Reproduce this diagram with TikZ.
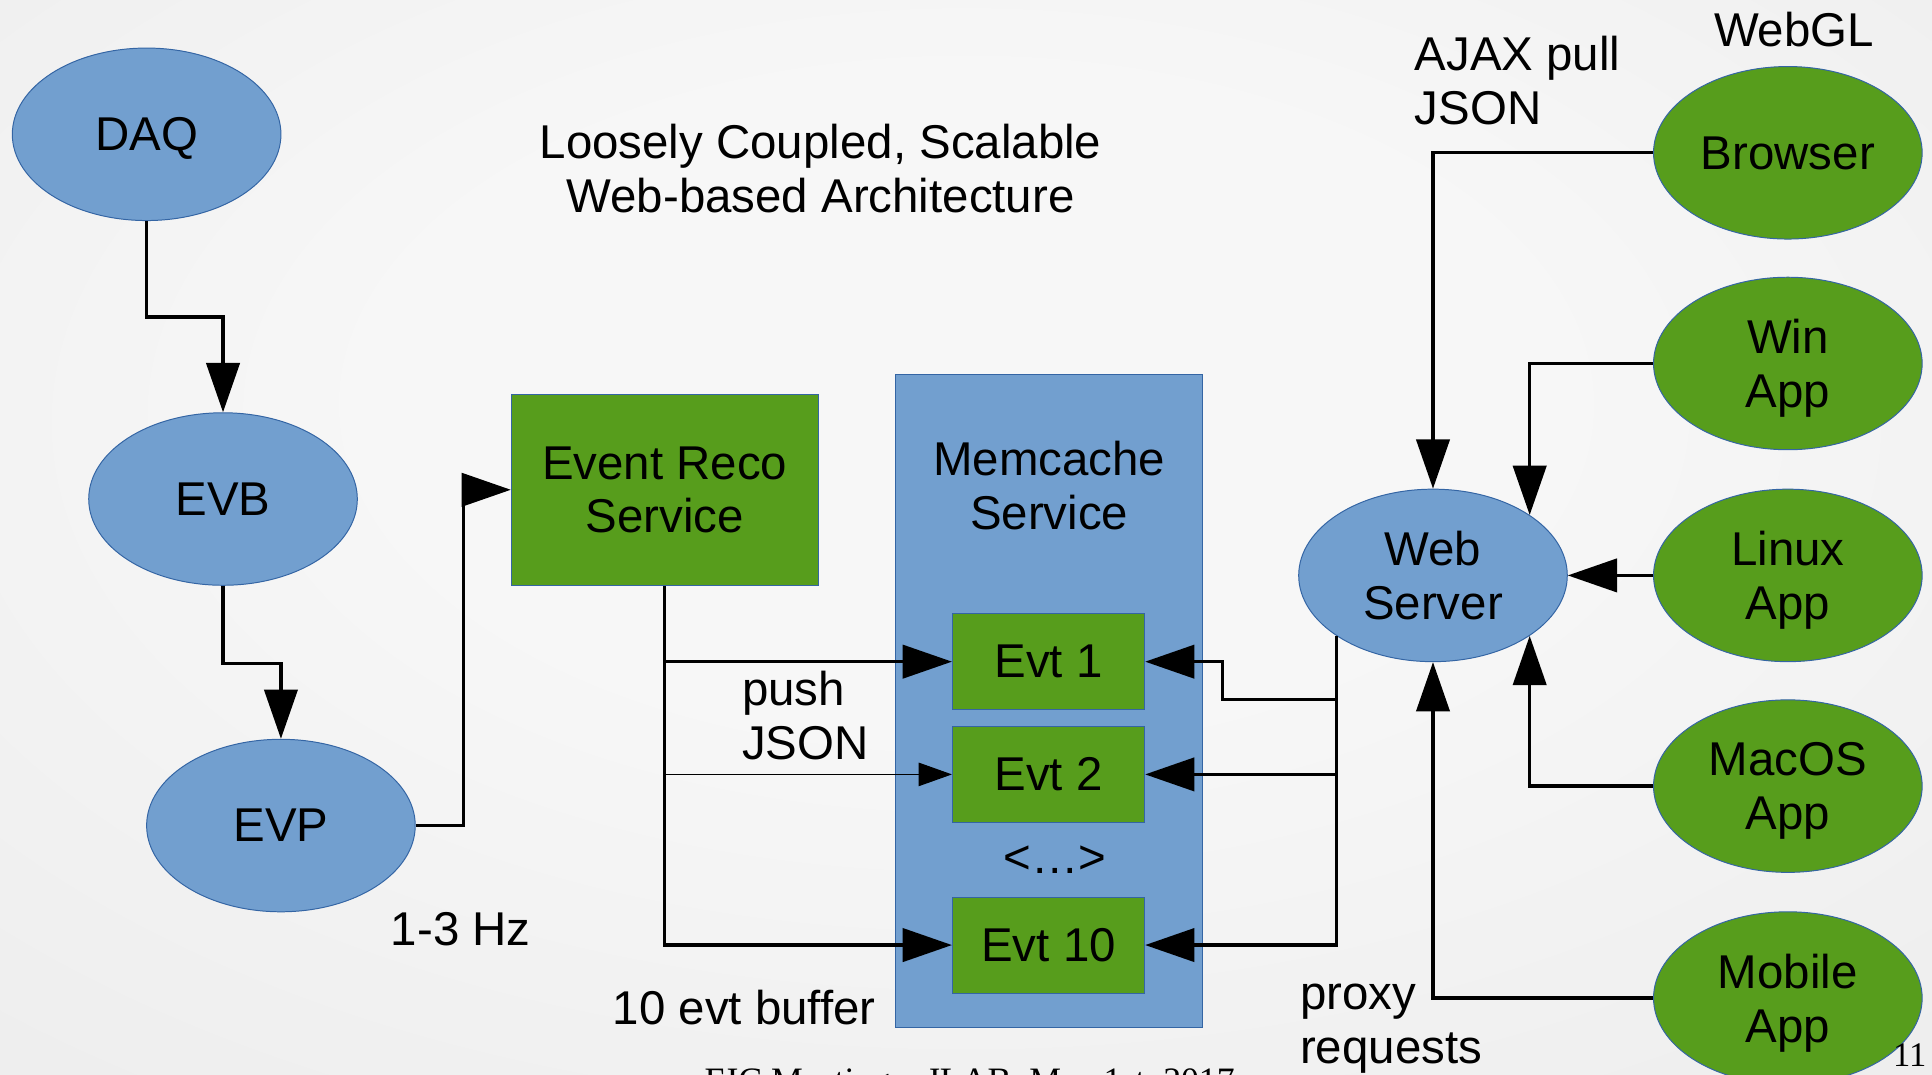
\documentclass[tikz,border=0pt]{standalone}
\usepackage{fontspec}
\setmainfont{Liberation Sans}
\newfontfamily\serifft{Liberation Serif}
\usetikzlibrary{arrows.meta,shapes.geometric,calc}
\definecolor{bluefill}{HTML}{729FCF}
\definecolor{blueline}{HTML}{3465A4}
\definecolor{greenfill}{HTML}{579D1C}
\definecolor{bgin}{HTML}{F7F7F7}
\definecolor{bgout}{HTML}{E0E0E0}
\pgfdeclareradialshading{bgshade}{\pgfpoint{0bp}{8bp}}{color(0bp)=(bgin); color(15bp)=(bgin); color(72bp)=(bgout)}
\begin{document}
\begin{tikzpicture}[x=1pt,y=-1pt,
  txt/.style={font=\fontsize{38.5}{43.5}\selectfont, inner sep=0pt, align=center},
  blueell/.style={ellipse, draw=blueline, line width=0.8pt, fill=bluefill, minimum width=218pt, minimum height=140pt, inner sep=0pt, txt, text depth=0pt},
  greenell/.style={ellipse, draw=blueline, line width=0.8pt, fill=greenfill, minimum width=218pt, minimum height=140pt, inner sep=0pt, txt, text depth=0pt},
  greenbox/.style={rectangle, draw=blueline, line width=0.8pt, fill=greenfill, inner sep=0pt, txt},
  bluebox/.style={rectangle, draw=blueline, line width=0.8pt, fill=bluefill, inner sep=0pt},
  conn/.style={draw=black, line width=2.7pt, -{Triangle[length=40pt,width=27pt]}},
  thinconn/.style={draw=black, line width=0.9pt, -{Triangle[length=27pt,width=19pt]}}
]
\useasboundingbox (0,0) rectangle (1568,872);
\shade[shading=bgshade] (0,0) rectangle (1568,872);

% left chain
\node[blueell] (daq) at (119,109) {DAQ};
\node[blueell] (evb) at (181,405) {EVB};
\node[blueell] (evp) at (228,670) {EVP};

\node[greenbox, minimum width=249pt, minimum height=155pt] (reco) at (539.5,397.5) {Event Reco\\Service};

\node[bluebox, minimum width=249pt, minimum height=530pt] (mem) at (851.5,569) {};
\node[txt] (memtxt) at (851.5,394) {Memcache\\Service};
\node[greenbox, minimum width=156pt, minimum height=78pt] (evt1) at (851,537) {Evt 1};
\node[greenbox, minimum width=156pt, minimum height=78pt] (evt2) at (851,628.5) {Evt 2};
\node[greenbox, minimum width=156pt, minimum height=78pt] (evt10) at (851,767) {Evt 10};
\node[txt] (dots) at (856,698) {<…>};

\node[blueell] (web) at (1163,467) {Web\\Server};

\node[greenell] (browser) at (1451,124) {Browser};
\node[greenell] (winapp) at (1451,295) {Win\\App};
\node[greenell] (linux) at (1451,467) {Linux\\App};
\node[greenell] (macos) at (1451,638) {MacOS\\App};
\node[greenell] (mobile) at (1451,810) {Mobile\\App};

% labels
\node[txt] (title) at (666,137) {Loosely Coupled, Scalable\\Web-based Architecture};
\node[txt] (hz) at (374,754) {1-3 Hz};
\node[txt, anchor=west, align=left] (push) at (602,580.5) {push\\JSON};
\node[txt] (buffer) at (604,818) {10 evt buffer};
\node[txt, anchor=west, align=left] (ajax) at (1148,65.5) {AJAX pull\\JSON};
\node[txt] (webgl) at (1456,24) {WebGL};
\node[txt, anchor=west, align=left] (proxy) at (1055,835) {proxy\\requests};

% connectors left
\draw[conn] (daq.south) -- ++(0,78) -| (evb.north);
\draw[conn] (evb.south) -- ++(0,63) -| (evp.north);
\draw[conn] (evp.east) -- ++(39,0) |- (reco.west);

\draw[conn] (reco.south) |- (evt1.west);
\draw[conn] (reco.south) |- (evt10.west);
\draw[thinconn] (reco.south |- evt2.west) -- (evt2.west);

% web server to memcache
\coordinate (bus) at (web.212.7);
\draw[conn] (bus) |- (evt10.east);
\draw[conn] (bus |- evt2.east) -- (evt2.east);
\draw[conn] ($(bus)+(0,51.5)$) -| ($(evt1.east)+(63,0)$) -- (evt1.east);

% clients to web server
\draw[conn] (browser.west) -| (web.north);
\draw[conn] (winapp.west) -| (web.32.7);
\draw[conn] (linux.west) -- (web.east);
\draw[conn] (macos.west) -| (web.-32.7);
\draw[conn] (mobile.west) -| (web.south);

% footer
\node[anchor=base, inner sep=0pt, font=\serifft\fontsize{29}{29}\selectfont] (footer) at (787,887) {EIC Meeting – JLAB, May 1st, 2017};
\node[inner sep=0pt, font=\serifft\fontsize{28}{28}\selectfont] (pagenum) at (1550,856) {11};
\end{tikzpicture}
\end{document}
